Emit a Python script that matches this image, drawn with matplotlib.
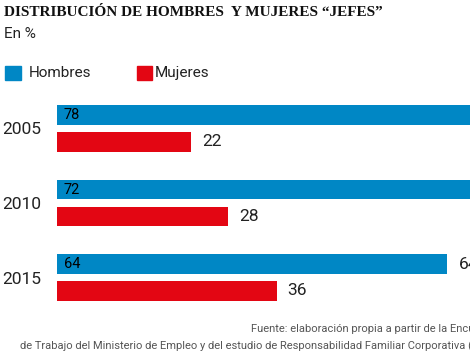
import matplotlib.pyplot as plt
import numpy as np

# data
years = ["2005", "2010", "2015"]
hombres = [78, 72, 64]
mujeres = [22, 28, 36]

blue = "#0087c5"
red = "#e30613"
ink = "#222222"
W, H = 470, 353
sans = "Roboto"

fig = plt.figure(figsize=(W / 100, H / 100), dpi=100)

# axes runs past the right edge on purpose (the original is cropped)
ax = fig.add_axes([57 / W, 1 - 314.75 / H, 610 / W, 223.5 / H])
y = np.arange(len(years))
off, h = 0.181, 0.268
ax.barh(y - off, hombres, height=h, color=blue)
ax.barh(y + off, mujeres, height=h, color=red)
ax.set_xlim(0, 100)
ax.set_ylim(2.5, -0.5)
for s in ax.spines.values():
    s.set_visible(False)
ax.set_xticks([])
ax.set_yticks(y)
ax.set_yticklabels(years, fontsize=12.5, color=ink, family=sans)
ax.tick_params(axis="y", length=0, pad=11)

for i in range(len(years)):
    ax.text(1.1, y[i] - off, str(hombres[i]), va="center", ha="left", fontsize=10.5,
            family=sans, color="#000000")
    ax.text(hombres[i] + 1.8, y[i] - off, str(hombres[i]), va="center", ha="left",
            fontsize=12.5, family=sans, color=ink)
    ax.text(mujeres[i] + 1.8, y[i] + off, str(mujeres[i]), va="center", ha="left",
            fontsize=12.5, family=sans, color=ink)

# title, subtitle
fig.text(4 / W, 1 - 12 / H, "DISTRIBUCIÓN DE HOMBRES  Y MUJERES “JEFES”", fontsize=11,
         fontweight="bold", family="Liberation Serif", va="center", ha="left", color="#111111")
fig.text(4 / W, 1 - 34 / H, "En %", fontsize=11, family=sans, va="center", color=ink)

# legend
fig.patches.append(plt.Rectangle((5 / W, 1 - 80 / H), 16 / W, 14 / H, transform=fig.transFigure,
                                 color=blue))
fig.text(29 / W, 1 - 73 / H, "Hombres", fontsize=11, family=sans, va="center", color=ink)
fig.patches.append(plt.Rectangle((137 / W, 1 - 80 / H), 15 / W, 14 / H, transform=fig.transFigure,
                                 color=red))
fig.text(155 / W, 1 - 73 / H, "Mujeres", fontsize=11, family=sans, va="center", color=ink)

# source
fig.text(251 / W, 1 - 329 / H, "Fuente: elaboración propia a partir de la Encuesta de Calidad de Vida",
         fontsize=8, family=sans, va="center", color="#555555")
fig.text(20 / W, 1 - 346 / H, "de Trabajo del Ministerio de Empleo y del estudio de Responsabilidad "
         "Familiar Corporativa (IESE)", fontsize=8, family=sans, va="center", color="#555555")

fig.savefig("out.png", dpi=100)
